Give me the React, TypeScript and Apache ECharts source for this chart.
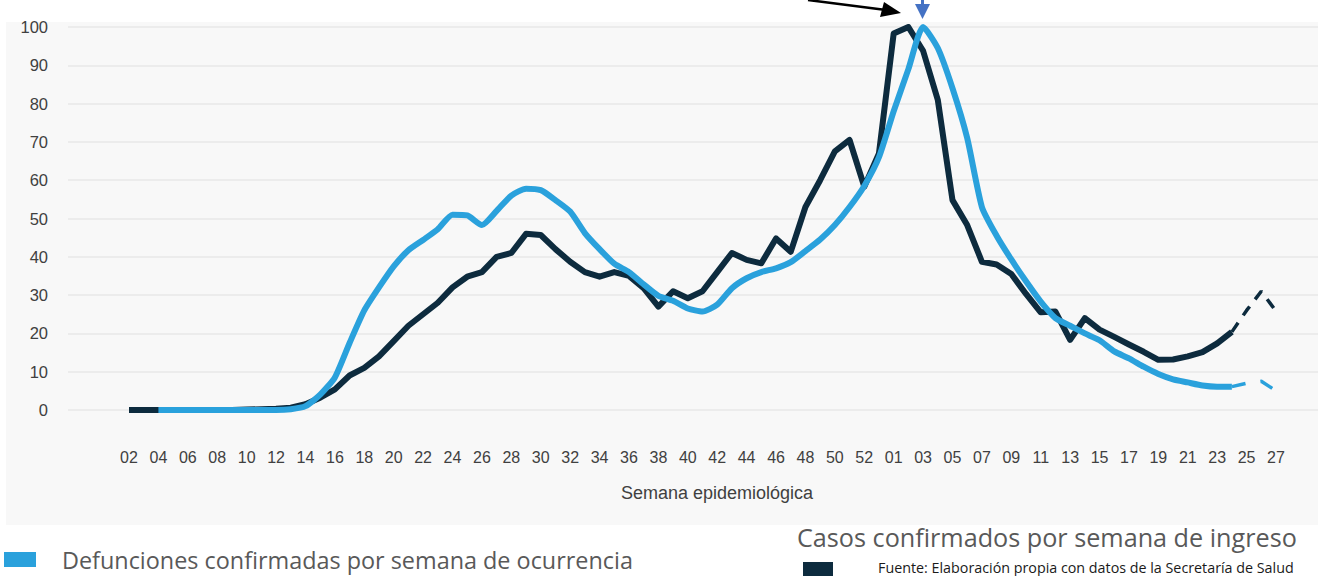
import React, { useEffect, useRef } from "react";
import * as echarts from "echarts";

const weeks: string[] = [
  "02","03","04","05","06","07","08","09","10","11","12","13","14","15","16","17","18","19","20","21",
  "22","23","24","25","26","27","28","29","30","31","32","33","34","35","36","37","38","39","40","41",
  "42","43","44","45","46","47","48","49","50","51","52","53",
  "01","02","03","04","05","06","07","08","09","10","11","12","13","14","15","16","17","18","19","20",
  "21","22","23","24","25","26","27",
];

// Casos confirmados por semana de ingreso (solid part, weeks 2020-02 .. 2021-24)
const casosSolid: (number | null)[] = [
  0, 0, 0, 0, 0, 0, 0, 0, 0.1, 0.2, 0.3, 0.6, 1.5, 3.2, 5.4, 9, 11, 14, 18, 22,
  25, 28, 32, 34.8, 36, 40, 41, 46, 45.7, 42, 38.7, 36, 34.8, 36, 35, 31.8, 27, 31, 29.2, 31,
  36, 41, 39.2, 38.3, 44.8, 41.3, 53, 60, 67.5, 70.5, 58.3, 67,
  98.3, 100, 93.8, 81, 54.8, 48.3, 38.7, 38, 35.5, 30.3, 25.5, 25.7, 18.3, 24, 21, 19.1, 17.1, 15.2,
  13.1, 13.2, 14, 15.1, 17.4, 20.4, null, null, null,
];
// Casos: preliminary (dashed) weeks
const casosDashed: (number | null)[] = [
  null, null, null, null, null, null, null, null, null, null, null, null, null, null, null, null, null, null, null, null,
  null, null, null, null, null, null, null, null, null, null, null, null, null, null, null, null, null, null, null, null,
  null, null, null, null, null, null, null, null, null, null, null, null,
  null, null, null, null, null, null, null, null, null, null, null, null, null, null, null, null, null, null,
  null, null, null, null, null, 20.4, 26, 31, 25.8,
];

// Defunciones confirmadas por semana de ocurrencia
const defuncionesSolid: (number | null)[] = [
  null, null, 0, 0, 0, 0, 0, 0, 0, 0, 0, 0.2, 1, 4, 8.5, 17.5, 26, 32, 37.5, 41.7,
  44.4, 47.2, 51, 50.8, 48.3, 52, 56, 57.8, 57.4, 54.8, 51.8, 46.2, 42, 38.2, 36, 32.8, 29.8, 28.5, 26.5, 25.7,
  27.5, 31.8, 34.4, 36, 37, 38.6, 41.5, 44.5, 48.3, 53, 58.5, 66,
  78, 89, 100, 94.5, 84, 71, 53, 45.5, 39.3, 33.6, 28.3, 24, 22, 20, 18.2, 15.3, 13.5, 11.3,
  9.4, 8, 7.2, 6.4, 6.1, 6.1, null, null, null,
];
const defuncionesDashed: (number | null)[] = [
  null, null, null, null, null, null, null, null, null, null, null, null, null, null, null, null, null, null, null, null,
  null, null, null, null, null, null, null, null, null, null, null, null, null, null, null, null, null, null, null, null,
  null, null, null, null, null, null, null, null, null, null, null, null,
  null, null, null, null, null, null, null, null, null, null, null, null, null, null, null, null, null, null,
  null, null, null, null, null, 6.1, 7, 7.5, 5,
];

const DARK = "#0d2b3e";
const BLUE = "#2aa1dc";

export default function App() {
  const ref = useRef<HTMLDivElement>(null);

  useEffect(() => {
    document.body.style.margin = "0";
    if (!ref.current) return;
    const chart = echarts.init(ref.current, undefined, { renderer: "svg" });
    const labelFont = "'Liberation Sans', Arial, sans-serif";
    const legendFont = "'Open Sans', 'Noto Sans', sans-serif";
    chart.setOption({
      animation: false,
      backgroundColor: "#ffffff",
      grid: [
        { left: 68, right: 0, top: 27, bottom: 166 },
        { left: 129, right: 42, top: 27, bottom: 166 },
      ],
      xAxis: [
        { gridIndex: 0, type: "value", min: 0, max: 1, show: false },
        {
          gridIndex: 1,
          type: "category",
          data: weeks,
          boundaryGap: false,
          axisLine: { show: false },
          axisTick: { show: false },
          splitLine: { show: false },
          axisLabel: {
            interval: 1,
            margin: 39,
            fontSize: 16,
            color: "#404040",
            fontFamily: labelFont,
          },
        },
      ],
      yAxis: [
        {
          gridIndex: 0,
          type: "value",
          min: 0,
          max: 100,
          interval: 10,
          axisLine: { show: false },
          axisTick: { show: false },
          axisLabel: { margin: 20, fontSize: 16.5, color: "#404040", fontFamily: labelFont },
          splitLine: { lineStyle: { color: "#e8e8e8", width: 1.5 } },
        },
        { gridIndex: 1, type: "value", min: 0, max: 100, interval: 10, show: false },
      ],
      series: [
        {
          type: "line",
          xAxisIndex: 1,
          yAxisIndex: 1,
          data: casosSolid,
          symbol: "none",
          lineStyle: { color: DARK, width: 6, join: "round" },
          z: 3,
        },
        {
          type: "line",
          xAxisIndex: 1,
          yAxisIndex: 1,
          data: casosDashed,
          symbol: "none",
          lineStyle: { color: DARK, width: 3.5, type: [11, 9] },
          z: 3,
        },
        {
          type: "line",
          xAxisIndex: 1,
          yAxisIndex: 1,
          data: defuncionesSolid,
          symbol: "none",
          smooth: 0.2,
          lineStyle: { color: BLUE, width: 6, join: "round" },
          z: 4,
        },
        {
          type: "line",
          xAxisIndex: 1,
          yAxisIndex: 1,
          data: defuncionesDashed,
          symbol: "none",
          lineStyle: { color: BLUE, width: 3.5, type: [14, 15] },
          z: 4,
        },
      ],
      graphic: [
        {
          type: "rect",
          z: -100,
          shape: { x: 6, y: 22, width: 1312, height: 503 },
          style: { fill: "#f8f8f8" },
        },
        {
          type: "text",
          x: 717,
          y: 493,
          style: {
            text: "Semana epidemiológica",
            fontSize: 18,
            fontFamily: labelFont,
            fill: "#404040",
            textAlign: "center",
            textVerticalAlign: "middle",
          },
        },
        // black arrow
        {
          type: "line",
          z: 100,
          shape: { x1: 808, y1: 0, x2: 886, y2: 10 },
          style: { stroke: "#000000", lineWidth: 2.5 },
        },
        {
          type: "polygon",
          z: 100,
          shape: { points: [[884, 2], [901, 13], [880, 17]] },
          style: { fill: "#000000" },
        },
        // blue arrow
        {
          type: "line",
          z: 100,
          shape: { x1: 922.5, y1: 0, x2: 922.5, y2: 5 },
          style: { stroke: "#4472c4", lineWidth: 3 },
        },
        {
          type: "polygon",
          z: 100,
          shape: { points: [[915, 4], [930, 4], [922.5, 19]] },
          style: { fill: "#4472c4" },
        },
        // legend
        {
          type: "rect",
          shape: { x: 4, y: 552, width: 32, height: 15 },
          style: { fill: BLUE },
        },
        {
          type: "text",
          x: 62,
          y: 560,
          style: {
            text: "Defunciones confirmadas por semana de ocurrencia",
            fontSize: 23.4,
            fontFamily: legendFont,
            fill: "#595959",
            textVerticalAlign: "middle",
          },
        },
        {
          type: "text",
          x: 797,
          y: 537,
          style: {
            text: "Casos confirmados por semana de ingreso",
            fontSize: 25.2,
            fontFamily: legendFont,
            fill: "#595959",
            textVerticalAlign: "middle",
          },
        },
        {
          type: "rect",
          shape: { x: 803, y: 562, width: 30, height: 14 },
          style: { fill: DARK },
        },
        {
          type: "text",
          x: 878,
          y: 567,
          style: {
            text: "Fuente: Elaboración propia con datos de la Secretaría de Salud",
            fontSize: 14.3,
            fontFamily: legendFont,
            fill: "#1a1a1a",
            textVerticalAlign: "middle",
          },
        },
      ],
    });
    return () => chart.dispose();
  }, []);

  return <div ref={ref} style={{ width: 1318, height: 576 }} />;
}
